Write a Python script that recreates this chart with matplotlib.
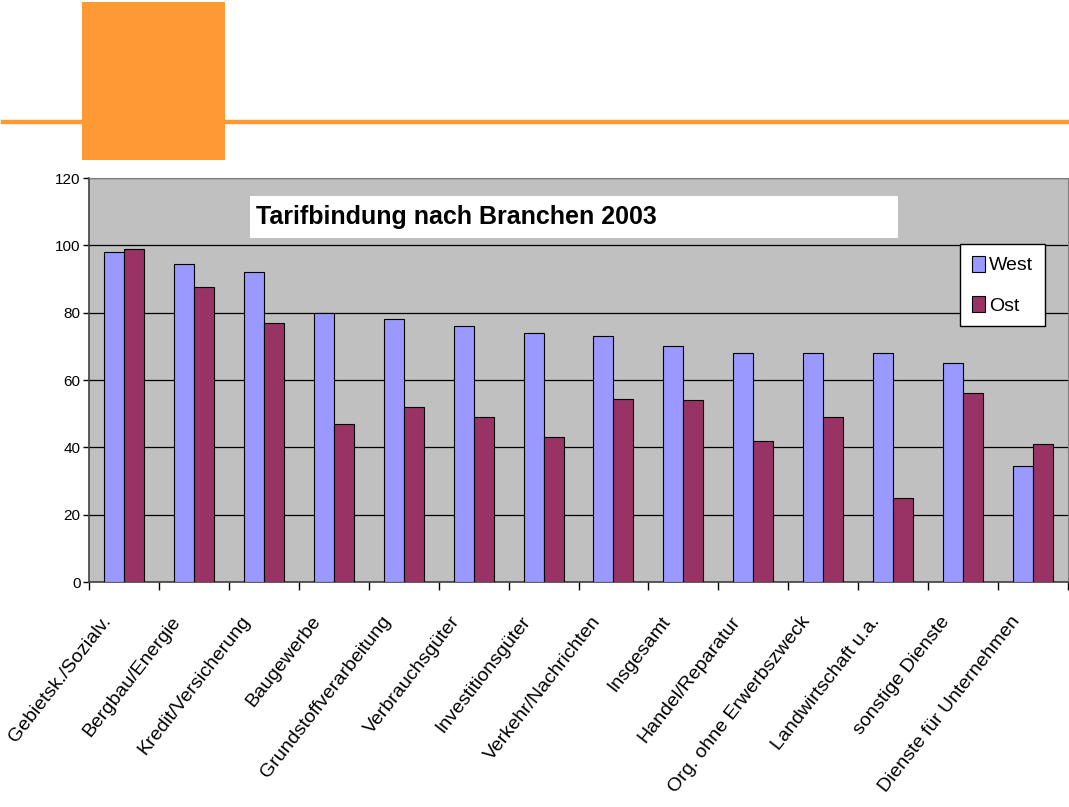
import numpy as np
import matplotlib.pyplot as plt
import matplotlib.transforms as mtransforms
from matplotlib.patches import Rectangle, Patch
from matplotlib.lines import Line2D

# Daten
branchen = ['Gebietsk./Sozialv.', 'Bergbau/Energie', 'Kredit/Versicherung',
            'Baugewerbe', 'Grundstoffverarbeitung', 'Verbrauchsgüter',
            'Investitionsgüter', 'Verkehr/Nachrichten', 'Insgesamt',
            'Handel/Reparatur', 'Org. ohne Erwerbszweck', 'Landwirtschaft u.a.',
            'sonstige Dienste', 'Dienste für Unternehmen']
west = [98, 94.5, 92, 80, 78, 76, 74, 73, 70, 68, 68, 68, 65, 34.5]
ost = [99, 87.5, 77, 47, 52, 49, 43, 54.5, 54, 42, 49, 25, 56, 41]
yticks = [0, 20, 40, 60, 80, 100, 120]

orange = '#FF9933'
col_west = '#9999FF'
col_ost = '#993366'

W, H = 1069, 807
fig = plt.figure(figsize=(W / 100, H / 100), dpi=100)

# Folien-Deko oben
fig.add_artist(Line2D([3 / W, 1], [1 - 122 / H, 1 - 122 / H], color=orange, lw=3.2,
                      transform=fig.transFigure))
fig.add_artist(Rectangle((82 / W, 1 - 160 / H), 143 / W, 158 / H,
                         transform=fig.transFigure, color=orange, lw=0))

ax = fig.add_axes([89 / W, 1 - 582 / H, 979 / W, 404 / H])
ax.set_facecolor('#C0C0C0')

x = np.arange(len(branchen))
bw = 0.286
ax.bar(x - bw / 2, west, bw, color=col_west, edgecolor='black', lw=0.8, label='West', zorder=3)
ax.bar(x + bw / 2, ost, bw, color=col_ost, edgecolor='black', lw=0.8, label='Ost', zorder=3)

ax.set_xlim(-0.5, len(branchen) - 0.5)
ax.set_ylim(0, 120)
ax.set_yticks(yticks)
ax.set_yticklabels([str(v) for v in yticks], family='Liberation Sans', fontsize=11)
ax.yaxis.grid(True, color='black', lw=0.9, zorder=1)
ax.set_axisbelow(True)

ax.set_xticks(np.arange(len(branchen) + 1) - 0.5)
ax.set_xticklabels([])
ax.tick_params(axis='x', which='major', length=6, width=1, direction='out')
ax.tick_params(axis='y', length=4, width=1, pad=2)

# Kategorienbeschriftung, schräg
shift = mtransforms.ScaledTranslation(-23 / 100, -31 / 100, fig.dpi_scale_trans)
for xi, name in zip(x, branchen):
    ax.text(xi, 0, name, transform=ax.get_xaxis_transform() + shift,
            rotation=52, rotation_mode='anchor', ha='right', va='top',
            family='Liberation Sans', fontsize=14, clip_on=False)

for s in ['left', 'bottom']:
    ax.spines[s].set_color('#404040')
    ax.spines[s].set_linewidth(1.2)
for s in ['top', 'right']:
    ax.spines[s].set_color('#808080')

# Titelkasten
ax.add_patch(Rectangle(((250 - 89) / 979, (582 - 238) / 404), 648 / 979, 42 / 404,
                       transform=ax.transAxes, facecolor='white', edgecolor='none', zorder=4))
ax.text((256 - 89) / 979, (582 - 217) / 404, 'Tarifbindung nach Branchen 2003',
        transform=ax.transAxes, ha='left', va='center', fontsize=18, fontweight='bold',
        family='Liberation Sans', zorder=5)

handles = [Patch(facecolor=col_west, edgecolor='black', lw=0.8),
           Patch(facecolor=col_ost, edgecolor='black', lw=0.8)]
leg = ax.legend(handles, ['West', 'Ost'], loc='upper left',
                bbox_to_anchor=((960 - 89) / 979, (582 - 244) / 404), borderaxespad=0,
                fancybox=False, framealpha=1, edgecolor='black', handlelength=0.7,
                handleheight=0.9, handletextpad=0.2, labelspacing=1.1, borderpad=0.6,
                prop={'family': 'Liberation Sans', 'size': 14})
leg.get_frame().set_linewidth(1)
leg.set_zorder(6)

fig.savefig('out.png', dpi=100)
